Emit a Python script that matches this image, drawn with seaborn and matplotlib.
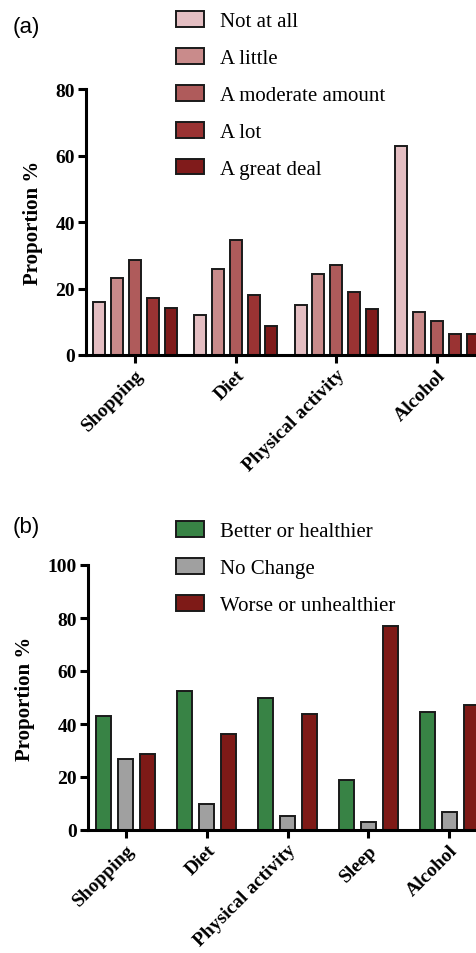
import matplotlib
matplotlib.use("Agg")
import matplotlib.pyplot as plt
import pandas as pd
import seaborn as sns

# panel (a): how much each behaviour changed
cats_a = ["Shopping", "Diet", "Physical activity", "Alcohol"]
levels_a = ["Not at all", "A little", "A moderate amount", "A lot", "A great deal"]
not_at_all = [16.0, 11.9, 14.9, 62.9]
a_little = [23.2, 26.0, 24.3, 12.8]
moderate = [28.7, 34.5, 27.0, 10.2]
a_lot = [17.1, 18.0, 18.8, 6.4]
great_deal = [14.0, 8.6, 13.7, 6.4]
colors_a = ["#E4BEC2", "#C98B8B", "#AF5B5B", "#9A3333", "#801B1B"]

# panel (b): direction of change
cats_b = ["Shopping", "Diet", "Physical activity", "Sleep", "Alcohol"]
levels_b = ["Better or healthier", "No Change", "Worse or unhealthier"]
better = [43.1, 52.3, 49.8, 18.7, 44.6]
no_change = [26.8, 9.9, 5.2, 2.9, 6.9]
worse = [28.8, 36.3, 43.9, 77.1, 47.3]
colors_b = ["#388345", "#A0A0A0", "#7E1A17"]


def to_long(cats, levels, series):
    rows = []
    for level, vals in zip(levels, series):
        for c, v in zip(cats, vals):
            rows.append({"category": c, "level": level, "value": v})
    return pd.DataFrame(rows)


df_a = to_long(cats_a, levels_a, [not_at_all, a_little, moderate, a_lot, great_deal])
df_b = to_long(cats_b, levels_b, [better, no_change, worse])

sns.set_style("ticks", {"axes.edgecolor": "black", "xtick.color": "black",
                        "ytick.color": "black", "text.color": "black",
                        "axes.labelcolor": "black"})
plt.rcParams["font.family"] = ["Liberation Serif", "DejaVu Serif"]
plt.rcParams["font.weight"] = "bold"
plt.rcParams["axes.linewidth"] = 2.2

W, H = 476, 954
fig = plt.figure(figsize=(W / 100, H / 100), dpi=100)


def px_axes(left, top, right, bottom):
    return fig.add_axes([left / W, 1 - bottom / H, (right - left) / W, (bottom - top) / H])


def draw_panel(ax, df, order, levels, colors, width, gap, ymax, xpad):
    sns.barplot(data=df, x="category", y="value", hue="level", order=order,
                hue_order=levels, palette=colors, saturation=1, width=width, gap=gap,
                edgecolor="#1a1a1a", linewidth=1.4, ax=ax)
    handles, labels = ax.get_legend_handles_labels()
    ax.get_legend().remove()
    ax.set_ylim(0, ymax)
    ax.set_yticks(range(0, ymax + 1, 20))
    ax.set_xlim(-xpad, len(order) - 1 + xpad)
    ax.set_xlabel("")
    ax.set_ylabel("Proportion %", fontsize=15, fontweight="bold", labelpad=9)
    ax.tick_params(axis="both", length=6, width=2.2, labelsize=14, pad=2)
    ax.set_xticks(range(len(order)))
    ax.set_xticklabels(order, rotation=45, ha="right", rotation_mode="anchor")
    sns.despine(ax=ax)
    return handles, labels


ax_a = px_axes(86, 90, 486, 356)
h_a, l_a = draw_panel(ax_a, df_a, cats_a, levels_a, colors_a, 0.89, 0.33, 80, 0.485)

ax_b = px_axes(88, 566, 487, 831)
h_b, l_b = draw_panel(ax_b, df_b, cats_b, levels_b, colors_b, 0.815, 0.32, 100, 0.466)

leg_kw = dict(loc="upper left", frameon=False, borderpad=0, borderaxespad=0,
              handlelength=1.35, handleheight=0.8, handletextpad=0.75,
              labelspacing=0.8, prop={"family": "Liberation Serif", "weight": "normal", "size": 15})
fig.legend(h_a, l_a, bbox_to_anchor=(176 / W, 1 - 12 / H), **leg_kw)
fig.legend(h_b, l_b, bbox_to_anchor=(176 / W, 1 - 522 / H), **leg_kw)

fig.text(13 / W, 1 - 28 / H, "(a)", fontsize=16, fontweight="normal",
         family="Liberation Sans", va="center")
fig.text(13 / W, 1 - 528 / H, "(b)", fontsize=16, fontweight="normal",
         family="Liberation Sans", va="center")

fig.savefig("out.png", dpi=100)
